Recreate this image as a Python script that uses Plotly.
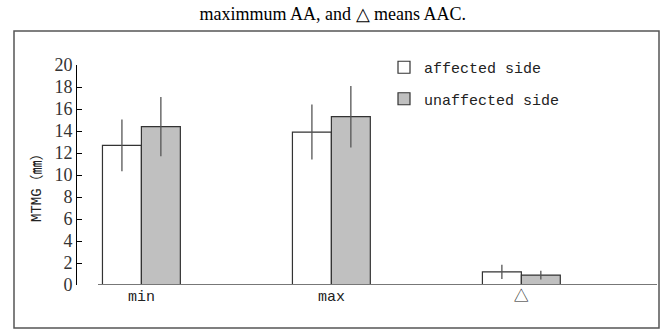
import plotly.graph_objects as go

categories = ["min", "max", "△"]
affected = [12.7, 13.9, 1.2]
affected_err = [2.35, 2.5, 0.65]
unaffected = [14.4, 15.3, 0.9]
unaffected_err = [2.7, 2.8, 0.4]
y_ticks = [0, 2, 4, 6, 8, 10, 12, 14, 16, 18, 20]

W, H = 663, 331
L, R, T, B = 77, 6, 65, 46
pw = W - L - R
ph = H - T - B

def px(x):
    return (x - L) / pw

def py(y):
    return (H - B - y) / ph

mono = "Liberation Mono, Noto Sans CJK SC, monospace"
serif = "Liberation Serif, Times New Roman, serif"

fig = go.Figure()
fig.add_trace(go.Bar(
    x=list(range(len(categories))), y=affected, name="affected side",
    marker=dict(color="white", line=dict(color="#333333", width=1.2)),
    error_y=dict(type="data", array=affected_err, color="#555555", thickness=1.3, width=0),
    legendgroup="a",
))
fig.add_trace(go.Bar(
    x=list(range(len(categories))), y=unaffected, name="unaffected side",
    marker=dict(color="#c0c0c0", line=dict(color="#333333", width=1.2)),
    error_y=dict(type="data", array=unaffected_err, color="#555555", thickness=1.3, width=0),
    legendgroup="b",
))

fig.update_layout(
    width=W, height=H,
    margin=dict(l=L, r=R, t=T, b=B),
    paper_bgcolor="white", plot_bgcolor="white",
    barmode="group", bargap=0.59, bargroupgap=0,
    showlegend=True,
    legend=dict(x=px(384), y=py(51), xanchor="left", yanchor="top",
                font=dict(family=mono, size=15, color="#222"),
                bgcolor="rgba(0,0,0,0)", tracegroupgap=9, itemwidth=30),
    title=dict(text="maximmum AA, and △ means AAC.", x=0.502, xanchor="center",
               y=1 - 14 / H, yanchor="middle",
               font=dict(family=serif, size=18, color="black")),
    xaxis=dict(range=[-0.339, 2.714], tickmode="array",
               tickvals=list(range(len(categories))), ticktext=categories,
               showline=False, showgrid=False, zeroline=False, ticks="",
               tickfont=dict(family=mono, size=15, color="#222")),
    yaxis=dict(range=[0, 20], tickmode="array", tickvals=y_ticks,
               showline=True, linecolor="black", linewidth=1,
               ticks="inside", ticklen=5, tickcolor="black",
               showgrid=False, zeroline=False,
               tickfont=dict(family=serif, size=18, color="#333")),
)

# x axis baseline (starts right of the y axis)
fig.add_shape(type="line", xref="paper", yref="y", x0=px(98), x1=px(657), y0=0, y1=0,
              line=dict(color="#777777", width=2))
# outer frame
fig.add_shape(type="rect", xref="paper", yref="paper",
              x0=px(14), x1=px(659), y0=py(328), y1=py(31),
              line=dict(color="#555555", width=1.5))
# y axis title
fig.add_annotation(text="MTMG（㎜）", xref="paper", yref="paper",
                   x=px(27), y=py(184), textangle=-90, showarrow=False,
                   font=dict(family=mono, size=14, color="#222"))

fig.write_html("out.html", config={"displayModeBar": False},
               post_script="document.body.style.margin='0';document.body.style.overflow='hidden';")
